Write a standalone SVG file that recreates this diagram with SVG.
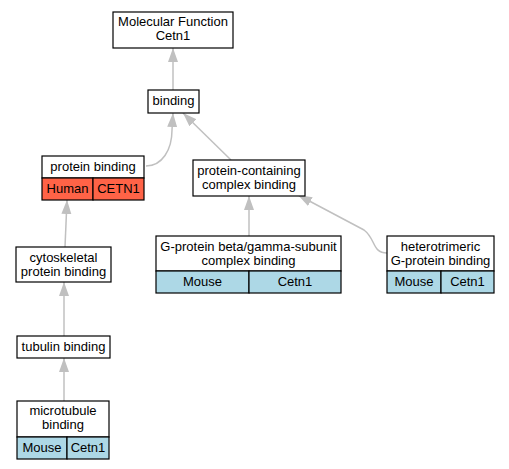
<svg xmlns="http://www.w3.org/2000/svg" width="509" height="469" viewBox="0 0 509 469">
<style>
text{font-family:"Liberation Sans",Arial,sans-serif;font-size:13px;fill:#000;text-anchor:middle}
.box{fill:#fff;stroke:#000;stroke-width:1.2}
.hu{fill:#ff6347;stroke:#000;stroke-width:1.2}
.mo{fill:#add8e6;stroke:#000;stroke-width:1.2}
.e{fill:none;stroke:#c0c0c0;stroke-width:1.5}
</style>
<defs>
<marker id="ah" markerUnits="userSpaceOnUse" markerWidth="16" markerHeight="12" refX="14" refY="5" orient="auto">
<polygon points="0,0 14,5 0,10" fill="#c0c0c0"/>
</marker>
</defs>
<rect width="509" height="469" fill="#fff"/>
<g id="edges">
<path class="e" d="M173,90 L173,48" marker-end="url(#ah)"/>
<path class="e" d="M146,166 C162,166 172,150 172,130 L173,113" marker-end="url(#ah)"/>
<path class="e" d="M231,160 L183,113" marker-end="url(#ah)"/>
<path class="e" d="M249,236 L249,196" marker-end="url(#ah)"/>
<path class="e" d="M387,253 C372,253 376,239 364,230 L298,195" marker-end="url(#ah)"/>
<path class="e" d="M65,247 L67,200" marker-end="url(#ah)"/>
<path class="e" d="M64,336 L64,282" marker-end="url(#ah)"/>
<path class="e" d="M64,401 L64,358" marker-end="url(#ah)"/>
</g>
<g id="mf">
<rect class="box" x="113" y="12" width="120" height="36"/>
<text x="173" y="26">Molecular Function</text>
<text x="173" y="40">Cetn1</text>
</g>
<g id="binding">
<rect class="box" x="148" y="90" width="51" height="23"/>
<text x="173.5" y="105">binding</text>
</g>
<g id="protein_binding">
<rect class="box" x="42" y="156" width="102" height="22"/>
<text x="93" y="171">protein binding</text>
<rect class="hu" x="42" y="178" width="51" height="22"/>
<rect class="hu" x="93" y="178" width="51" height="22"/>
<text x="67.5" y="193">Human</text>
<text x="118.5" y="193">CETN1</text>
</g>
<g id="pcb">
<rect class="box" x="193" y="160" width="112" height="36"/>
<text x="249" y="175">protein-containing</text>
<text x="249" y="189">complex binding</text>
</g>
<g id="gprot">
<rect class="box" x="156" y="236" width="185" height="35"/>
<text x="248.5" y="251">G-protein beta/gamma-subunit</text>
<text x="248.5" y="265">complex binding</text>
<rect class="mo" x="156" y="271" width="93" height="22"/>
<rect class="mo" x="249" y="271" width="92" height="22"/>
<text x="202.5" y="286">Mouse</text>
<text x="295" y="286">Cetn1</text>
</g>
<g id="hetero">
<rect class="box" x="387" y="236" width="107" height="35"/>
<text x="440.5" y="251">heterotrimeric</text>
<text x="440.5" y="265">G-protein binding</text>
<rect class="mo" x="387" y="271" width="54" height="22"/>
<rect class="mo" x="441" y="271" width="53" height="22"/>
<text x="414" y="286">Mouse</text>
<text x="467.5" y="286">Cetn1</text>
</g>
<g id="cyto">
<rect class="box" x="16" y="247" width="95" height="35"/>
<text x="63.5" y="262">cytoskeletal</text>
<text x="63.5" y="276">protein binding</text>
</g>
<g id="tubulin">
<rect class="box" x="17" y="336" width="93" height="22"/>
<text x="63.5" y="351">tubulin binding</text>
</g>
<g id="micro">
<rect class="box" x="17" y="401" width="92" height="36"/>
<text x="63" y="415">microtubule</text>
<text x="63" y="429">binding</text>
<rect class="mo" x="17" y="437" width="50" height="22"/>
<rect class="mo" x="67" y="437" width="42" height="22"/>
<text x="42" y="452">Mouse</text>
<text x="88" y="452">Cetn1</text>
</g>
</svg>
